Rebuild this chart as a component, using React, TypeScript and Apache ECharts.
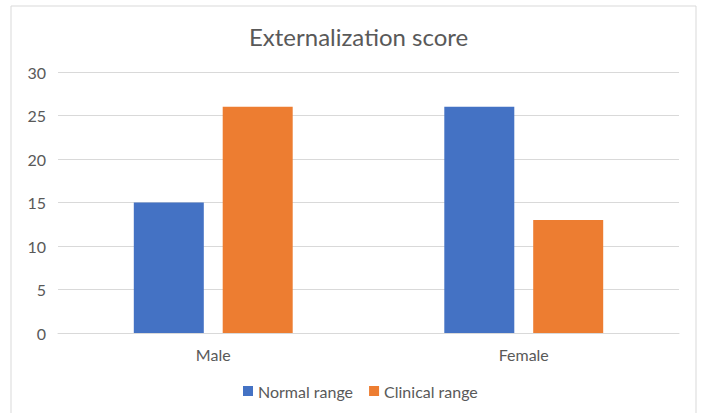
import React, { useEffect, useRef } from "react";
import * as echarts from "echarts";

const categories = ["Male", "Female"];
const normalRange = [15, 26];
const clinicalRange = [26, 13];
const seriesNames = ["Normal range", "Clinical range"];

export default function App() {
  const ref = useRef<HTMLDivElement>(null);
  useEffect(() => {
    document.body.style.margin = "0";
    const chart = echarts.init(ref.current!, null, { renderer: "svg" });
    const font = "Lato, 'Open Sans', sans-serif";
    chart.setOption({
      animation: false,
      backgroundColor: "#ffffff",
      textStyle: { fontFamily: font },
      title: {
        text: "Externalization score",
        left: 244,
        top: 19,
        textStyle: { fontFamily: font, fontSize: 24, fontWeight: "normal", color: "#595959" },
      },
      graphic: [
        {
          type: "rect",
          shape: { x: 11, y: 6, width: 685, height: 420 },
          style: { fill: "none", stroke: "#d9d9d9", lineWidth: 1 },
          silent: true,
        },
      ],
      legend: {
        top: 378,
        left: 238,
        itemWidth: 10,
        itemHeight: 10,
        itemGap: 16,
        icon: "rect",
        textStyle: { fontFamily: font, fontSize: 16, color: "#595959" },
        data: seriesNames,
      },
      grid: { left: 58, right: 23, top: 72, bottom: 80 },
      xAxis: {
        type: "category",
        data: categories,
        axisLine: { lineStyle: { color: "#d9d9d9" } },
        axisTick: { show: false },
        axisLabel: { color: "#595959", fontSize: 16, margin: 13, fontFamily: font },
      },
      yAxis: {
        type: "value",
        min: 0,
        max: 30,
        interval: 5,
        axisLine: { show: false },
        axisTick: { show: false },
        axisLabel: { color: "#595959", fontSize: 16, margin: 12, fontFamily: font },
        splitLine: { lineStyle: { color: "#d9d9d9" } },
      },
      series: [
        {
          name: seriesNames[0],
          type: "bar",
          data: normalRange,
          barWidth: 70,
          barGap: "27%",
          itemStyle: { color: "#4472c4" },
        },
        {
          name: seriesNames[1],
          type: "bar",
          data: clinicalRange,
          barWidth: 70,
          itemStyle: { color: "#ed7d31" },
        },
      ],
    });
    return () => chart.dispose();
  }, []);
  return <div ref={ref} style={{ width: 702, height: 413 }} />;
}
